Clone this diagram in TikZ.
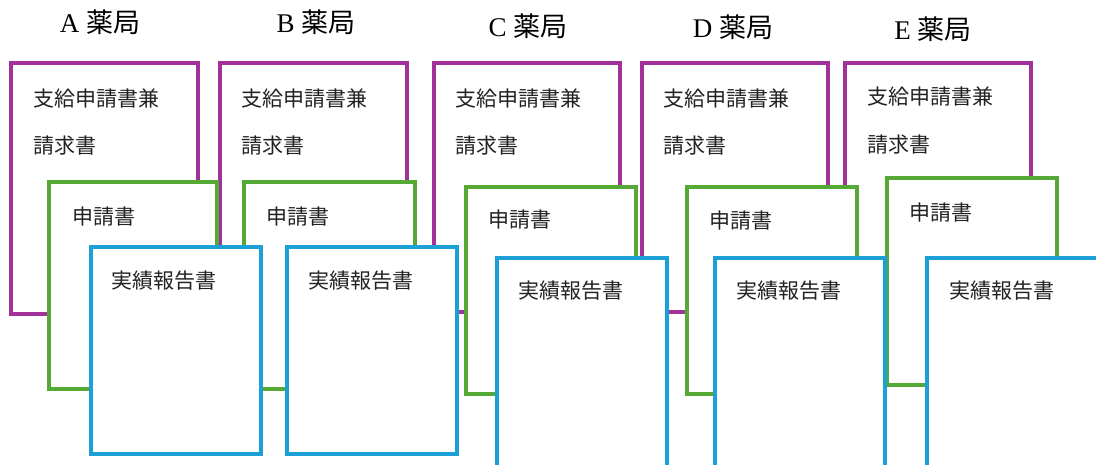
\documentclass[tikz,border=0pt]{standalone}
\usepackage{fontspec}
\setmainfont{Liberation Serif}
\newfontfamily\cjk{Noto Sans CJK JP}
\definecolor{docpurple}{HTML}{A2329A}
\definecolor{docgreen}{HTML}{55AA35}
\definecolor{docblue}{HTML}{1BA1D7}
\definecolor{txtgray}{HTML}{222222}
\begin{document}
\begin{tikzpicture}[x=1pt,y=-1pt,
  pbox/.style={draw=docpurple,line width=3.6pt,fill=white},
  gbox/.style={draw=docgreen,line width=3.6pt,fill=white},
  bbox/.style={draw=docblue,line width=3.6pt,fill=white},
  doclabel/.style={anchor=west,inner sep=0pt,text=txtgray,font=\cjk\fontsize{21}{24}\selectfont},
  title/.style={anchor=center,inner sep=0pt,text=black,font=\fontsize{27}{30}\selectfont}]
\useasboundingbox (0,0) rectangle (1096,464);
\clip (0,0) rectangle (1096,464);
\fill[white] (0,0) rectangle (1096,464);
% titles
\node[title] (tA) at (100,22) {A {\cjk 薬局}};
\node[title] (tB) at (316,22) {B {\cjk 薬局}};
\node[title] (tC) at (528,26) {C {\cjk 薬局}};
\node[title] (tD) at (733,27) {D {\cjk 薬局}};
\node[title] (tE) at (933,29) {E {\cjk 薬局}};
% purple boxes
\draw[pbox] (11,63) rectangle (198,314);
\node[doclabel] (pA1) at (33,99) {支給申請書兼};
\node[doclabel] (pA2) at (33,146) {請求書};
\draw[pbox] (220,63) rectangle (407,314);
\node[doclabel] (pB1) at (241,99) {支給申請書兼};
\node[doclabel] (pB2) at (241,146) {請求書};
\draw[pbox] (434,63) rectangle (620,312);
\node[doclabel] (pC1) at (455,99) {支給申請書兼};
\node[doclabel] (pC2) at (455,146) {請求書};
\draw[pbox] (642,63) rectangle (828,312);
\node[doclabel] (pD1) at (663,99) {支給申請書兼};
\node[doclabel] (pD2) at (663,146) {請求書};
\draw[pbox] (845,63) rectangle (1031,312);
\node[doclabel] (pE1) at (867,97) {支給申請書兼};
\node[doclabel] (pE2) at (867,145) {請求書};
% green boxes
\draw[gbox] (49,182) rectangle (217,389);
\node[doclabel] (gA) at (72,217) {申請書};
\draw[gbox] (244,182) rectangle (415,389);
\node[doclabel] (gB) at (266,217) {申請書};
\draw[gbox] (466,187) rectangle (636,394);
\node[doclabel] (gC) at (488,220) {申請書};
\draw[gbox] (687,187) rectangle (857,394);
\node[doclabel] (gD) at (709,221) {申請書};
\draw[gbox] (887,178) rectangle (1057,385);
\node[doclabel] (gE) at (909,213) {申請書};
% blue boxes
\draw[bbox] (91,247) rectangle (261,454);
\node[doclabel] (bA) at (111,281) {実績報告書};
\draw[bbox] (287,247) rectangle (457,454);
\node[doclabel] (bB) at (308,281) {実績報告書};
\draw[bbox] (497,258) rectangle (667,490);
\node[doclabel] (bC) at (518,291) {実績報告書};
\draw[bbox] (715,258) rectangle (885,490);
\node[doclabel] (bD) at (736,291) {実績報告書};
\draw[bbox] (927,258) rectangle (1120,490);
\node[doclabel] (bE) at (949,291) {実績報告書};
\end{tikzpicture}
\end{document}
